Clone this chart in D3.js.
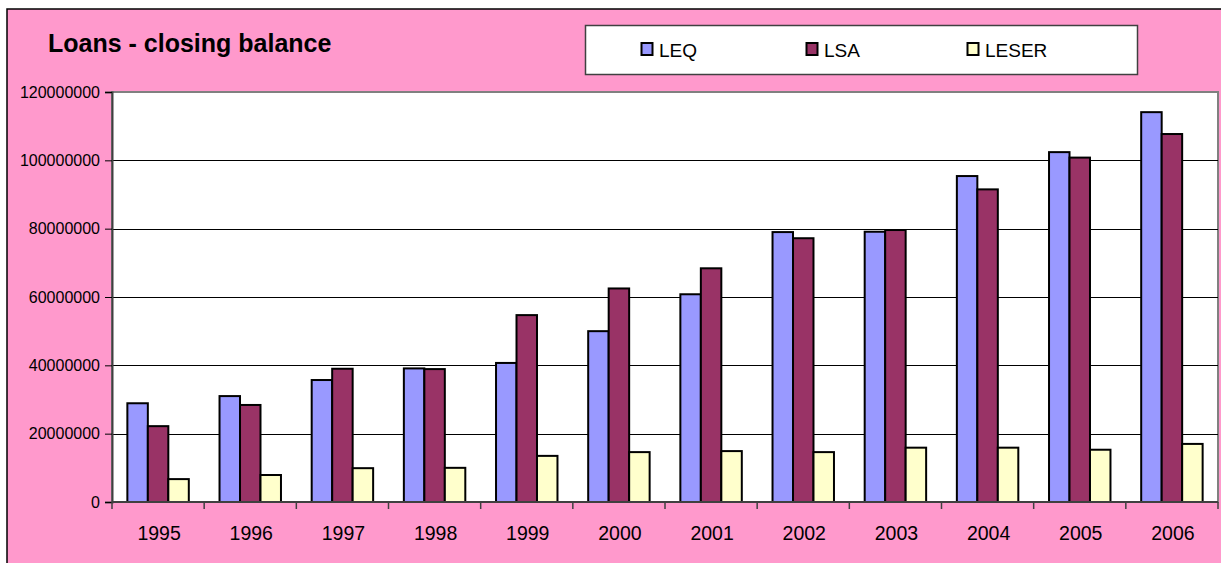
<!DOCTYPE html>
<html>
<head>
<meta charset="utf-8">
<script src="https://cdn.jsdelivr.net/npm/d3@7"></script>
<style>
  html, body { margin: 0; padding: 0; background: #ffffff; }
  svg { display: block; font-family: "Liberation Sans", Arial, sans-serif; }
</style>
</head>
<body>
<svg id="chart" width="1221" height="563"></svg>
<script>
// Loans closing balance by year, three loan types
const years = ["1995", "1996", "1997", "1998", "1999", "2000", "2001", "2002", "2003", "2004", "2005", "2006"];
const seriesNames = ["LEQ", "LSA", "LESER"];
const seriesColors = ["#9999FF", "#993366", "#FFFFCC"];
const leq = [28900000, 31000000, 35700000, 39100000, 40700000, 50000000, 60800000, 79000000, 79100000, 95400000, 102400000, 114100000];
const lsa = [22200000, 28400000, 39000000, 38900000, 54700000, 62500000, 68400000, 77200000, 79600000, 91500000, 100800000, 107700000];
const leser = [6700000, 7900000, 9900000, 10000000, 13500000, 14600000, 14900000, 14600000, 15900000, 15900000, 15300000, 17000000];
const yTicks = [0, 20000000, 40000000, 60000000, 80000000, 100000000, 120000000];
const title = "Loans - closing balance";

const seriesValues = [leq, lsa, leser];
const W = 1221, H = 563;
const svg = d3.select("#chart");

// chart area background with frame
svg.append("rect").attr("x", 7).attr("y", 9).attr("width", W + 10).attr("height", H + 10)
  .attr("fill", "#FF99CC").attr("stroke", "#000").attr("stroke-width", 1.5);

const plot = { left: 112, right: 1218, top: 92, bottom: 502 };

const x0 = d3.scaleBand().domain(years).range([plot.left, plot.right]).paddingInner(0).paddingOuter(0);
// 150% gap width: each bar is band / (3 + 1.5)
const barW = x0.bandwidth() / 4.5;
const x1 = d3.scaleBand().domain(seriesNames).range([0, barW * 3]);
const y = d3.scaleLinear().domain([0, 120000000]).range([plot.bottom, plot.top]);

// plot area
svg.append("rect").attr("x", plot.left).attr("y", plot.top)
  .attr("width", plot.right - plot.left).attr("height", plot.bottom - plot.top)
  .attr("fill", "#ffffff").attr("stroke", "#808080").attr("stroke-width", 2);

// horizontal gridlines
svg.append("g").selectAll("line").data(yTicks.filter(d => d > 0 && d < 120000000)).join("line")
  .attr("x1", plot.left).attr("x2", plot.right)
  .attr("y1", d => Math.round(y(d)) + 0.5).attr("y2", d => Math.round(y(d)) + 0.5)
  .attr("stroke", "#000").attr("stroke-width", 1);

// bars
const groups = svg.append("g").selectAll("g").data(years).join("g")
  .attr("transform", d => `translate(${x0(d) + barW * 0.75},0)`);
groups.selectAll("rect").data((d, i) => seriesNames.map((s, k) => ({ s, k, v: seriesValues[k][i] }))).join("rect")
  .attr("x", d => x1(d.s))
  .attr("y", d => y(d.v))
  .attr("width", x1.bandwidth())
  .attr("height", d => y(0) - y(d.v))
  .attr("fill", d => seriesColors[d.k])
  .attr("stroke", "#000").attr("stroke-width", 2);

// y axis
const yAxis = d3.axisLeft(y).tickValues(yTicks).tickFormat(d3.format("d")).tickSize(7).tickPadding(5);
const gy = svg.append("g").attr("transform", `translate(${plot.left},0)`).call(yAxis);
gy.select(".domain").attr("stroke", "#404040").attr("stroke-width", 2);
gy.selectAll(".tick line").attr("stroke", "#000");
gy.selectAll("text").attr("font-size", 16).attr("fill", "#000")
  .attr("font-family", "'Liberation Sans', Arial, sans-serif");

// x axis: tick marks at category boundaries
const gx = svg.append("g").attr("transform", `translate(0,${plot.bottom})`);
gx.append("line").attr("x1", plot.left).attr("x2", plot.right).attr("y1", 0).attr("y2", 0)
  .attr("stroke", "#404040").attr("stroke-width", 2);
const boundaries = years.map(d => x0(d)).concat([plot.right]);
gx.selectAll("line.tk").data(boundaries).join("line").attr("class", "tk")
  .attr("x1", d => d).attr("x2", d => d).attr("y1", 0).attr("y2", 7)
  .attr("stroke", "#404040").attr("stroke-width", 1.5);
gx.selectAll("text").data(years).join("text")
  .attr("x", d => x0(d) + x0.bandwidth() / 2 + 1)
  .attr("y", 38)
  .attr("text-anchor", "middle")
  .attr("font-size", 19.5).attr("fill", "#000")
  .text(d => d);

// title
svg.append("text").attr("x", 48).attr("y", 52).attr("font-size", 25).attr("font-weight", "bold")
  .attr("fill", "#000").text(title);

// legend
const legend = svg.append("g");
legend.append("rect").attr("x", 585.5).attr("y", 25.5).attr("width", 552).attr("height", 49)
  .attr("fill", "#fff").attr("stroke", "#404040").attr("stroke-width", 1.5);
const legendX = [641, 806, 967];
const items = legend.selectAll("g").data(seriesNames).join("g")
  .attr("transform", (d, i) => `translate(${legendX[i]},43)`);
items.append("rect").attr("x", 0.5).attr("y", 0).attr("width", 11).attr("height", 12)
  .attr("fill", (d, i) => seriesColors[i]).attr("stroke", "#000").attr("stroke-width", 2);
items.append("text").attr("x", 18).attr("y", 13.5).attr("font-size", 19).attr("fill", "#000").text(d => d);
</script>
</body>
</html>
